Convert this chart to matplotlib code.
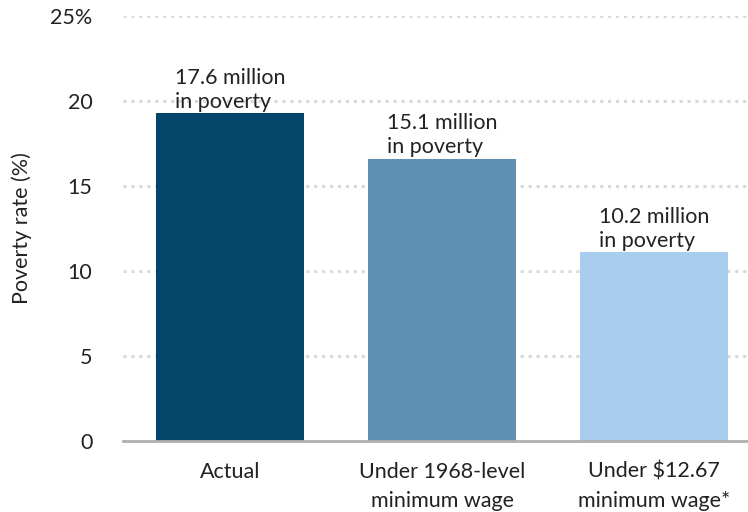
import matplotlib.pyplot as plt

plt.rcParams['font.family'] = ['Lato', 'DejaVu Sans']

# Data
categories = ['Actual', 'Under 1968-level\nminimum wage', 'Under $12.67\nminimum wage*']
poverty_rate = [19.3, 16.6, 11.1]
bar_labels = ['17.6 million\nin poverty', '15.1 million\nin poverty', '10.2 million\nin poverty']
bar_colors = ['#03466a', '#5f91b5', '#a8cdee']
yticks = [0, 5, 10, 15, 20, 25]
ytick_labels = ['0', '5', '10', '15', '20', '25%']


def draw_plot():
    fig = plt.figure(figsize=(7.48, 5.12), dpi=100)
    ax = fig.add_axes([123 / 748, 1 - 441 / 512, 1 - 123 / 748, (441 - 16) / 512])

    x = range(len(categories))
    bars = ax.bar(x, poverty_rate, width=0.7, color=bar_colors, zorder=3)

    # Labels above bars
    for bar, label in zip(bars, bar_labels):
        ax.annotate(label, (bar.get_x() + bar.get_width() / 2, bar.get_height()),
                    xytext=(0, 1), textcoords='offset points',
                    ha='center', va='bottom', multialignment='left',
                    fontsize=15.5, color='#222222', linespacing=1.25, zorder=4)

    ax.set_xlim(-0.505, 2.443)
    ax.set_ylim(0, 25)
    ax.set_yticks(yticks)
    ax.set_yticklabels(ytick_labels)
    ax.set_xticks(list(x))
    ax.set_xticklabels(categories, linespacing=1.55)
    ax.tick_params(axis='both', length=0, labelsize=15.5, colors='#222222')
    ax.tick_params(axis='y', pad=22)
    ax.tick_params(axis='x', pad=15)

    # Dotted gridlines
    ax.grid(axis='y', linestyle=(0, (1, 1.6)), linewidth=2.2, color='#d9d9d9', zorder=0)
    for gl in ax.get_ygridlines():
        gl.set_dash_capstyle('butt')
    ax.set_axisbelow(True)
    for side in ['top', 'right', 'left']:
        ax.spines[side].set_visible(False)
    ax.spines['bottom'].set_color('#b0b0b0')
    ax.spines['bottom'].set_linewidth(2)
    ax.spines['bottom'].set_zorder(5)

    ax.set_ylabel('Poverty rate (%)', fontsize=15.5, color='#222222')
    ax.yaxis.set_label_coords(-0.145, 0.5)

    plt.savefig('out.png', dpi=100)
    return ax


if __name__ == "__main__":
    draw_plot()
